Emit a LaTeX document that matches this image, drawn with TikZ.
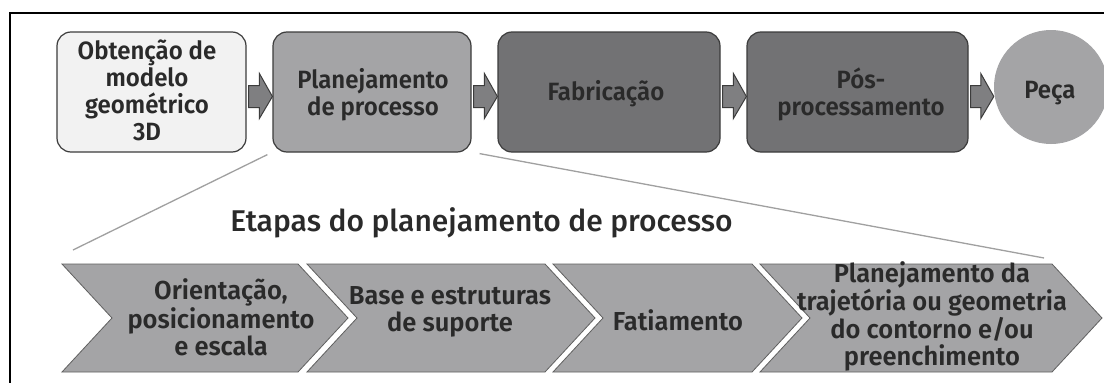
\documentclass[tikz,border=0pt]{standalone}
\usepackage{fontspec}
\usetikzlibrary{calc}
\IfFontExistsTF{Fira Sans SemiBold}
  {\newfontfamily\lblfont{Fira Sans SemiBold}[FakeStretch=0.96]
   \newfontfamily\chvfont{Fira Sans SemiBold}[FakeStretch=0.98]}
  {\newfontfamily\lblfontX{Fira Sans}[FakeStretch=0.96]\newcommand\lblfont{\lblfontX\bfseries}
   \newfontfamily\chvfontX{Fira Sans}[FakeStretch=0.98]\newcommand\chvfont{\chvfontX\bfseries}}
\IfFontExistsTF{Fira Sans Medium}
  {\newfontfamily\ttlfont{Fira Sans Medium}}
  {\newcommand\ttlfont{\lblfont}}
\definecolor{lightbox}{HTML}{F2F2F2}
\definecolor{midgray}{HTML}{A4A4A6}
\definecolor{darkbox}{HTML}{727274}
\definecolor{arrc}{HTML}{7F7F81}
\definecolor{bordc}{HTML}{3C3C3C}
\definecolor{txtc}{HTML}{2A2A2A}
\definecolor{linec}{HTML}{A0A0A0}
\definecolor{chevbord}{HTML}{606060}
\newcommand\blockarr[2]{\draw[blockarrow] let \p1=(#1.east), \p2=(#2) in
 (\x1+2pt,\y1+6.5pt) -- (\x2-13pt,\y1+6.5pt) -- (\x2-13pt,\y1+18.5pt) -- (\x2,\y1-4.5pt)
 -- (\x2-13pt,\y1-26.5pt) -- (\x2-13pt,\y1-15.5pt) -- (\x1+2pt,\y1-15.5pt) -- cycle;}
\newcommand\chevshape[2]{\draw[chev] (#1,264) -- (#2,264) -- (#2+50,318) -- (#2,372) -- (#1,372) -- (#1+50,318) -- cycle;}
\begin{document}
\begin{tikzpicture}[x=1pt,y=-1pt,
  box/.style={draw=bordc, line width=1.2pt, rounded corners=14pt, inner sep=0pt},
  lbl/.style={font=\lblfont\fontsize{25}{26.8}\selectfont, text=txtc, align=center, inner sep=0pt},
  chl/.style={font=\chvfont\fontsize{26}{26.5}\selectfont, text=txtc, align=center, inner sep=0pt},
  ttl/.style={font=\ttlfont\fontsize{30}{34}\selectfont, text=txtc, inner sep=0pt},
  blockarrow/.style={draw=bordc, fill=arrc, line width=1pt},
  zoomline/.style={draw=linec, line width=1.3pt},
  chev/.style={draw=chevbord, fill=midgray, line width=0.8pt}]
\useasboundingbox (0,0) rectangle (1104,383);
\fill[white] (0,0) rectangle (1104,383);
% frame
\draw[line width=2pt, black] (10,395) -- (10,13) -- (1115,13);
% top boxes
\node[box, fill=lightbox, minimum width=189pt, minimum height=120pt] (b1) at (151.5,92) {};
\node[box, fill=midgray, minimum width=198pt, minimum height=120pt] (b2) at (372,92) {};
\node[box, fill=darkbox, minimum width=222pt, minimum height=120pt] (b3) at (609,92) {};
\node[box, fill=darkbox, minimum width=221pt, minimum height=120pt] (b4) at (857.5,92) {};
\node[circle, fill=midgray, minimum size=114pt, inner sep=0pt] (peca) at (1051,87) {};
% labels (anchor base = baseline of last line)
\node[lbl, anchor=base] (t1) at (147,140) {Obtenção de\\modelo\\geométrico\\3D};
\node[lbl, anchor=base] (t2) at (373,115) {Planejamento\\de processo};
\node[lbl, anchor=base] (t3) at (606,100) {Fabricação};
\node[lbl, anchor=base] (t4) at (861,115) {Pós-\\processamento};
\node[lbl, anchor=base] (t5) at (1050,98) {Peça};
% block arrows
\blockarr{b1}{b2.west}
\blockarr{b2}{b3.west}
\blockarr{b3}{b4.west}
\blockarr{b4}{peca.west}
% zoom lines
\coordinate (zl) at (73,250);
\coordinate (zr) at (1044,258);
\draw[zoomline] ($(b2.south west)+(-5,2)$) -- (zl);
\draw[zoomline] ($(b2.south east)+(8,1)$) -- (zr);
% title
\node[ttl, anchor=base] (title) at (481.5,231) {Etapas do planejamento de processo};
% chevrons
\chevshape{62}{298}
\chevshape{307}{545}
\chevshape{553}{752}
\chevshape{760}{1052}
\node[chl, anchor=base] (c1) at (221,355) {Orientação,\\posicionamento\\e escala};
\node[chl, anchor=base] (c2) at (450,331) {Base e estruturas\\de suporte};
\node[chl, anchor=base] (c3) at (678,330) {Fatiamento};
\node[chl, anchor=base] (c4) at (932,365) {Planejamento da\\trajetória ou geometria\\do contorno e/ou\\preenchimento};
\end{tikzpicture}
\end{document}
